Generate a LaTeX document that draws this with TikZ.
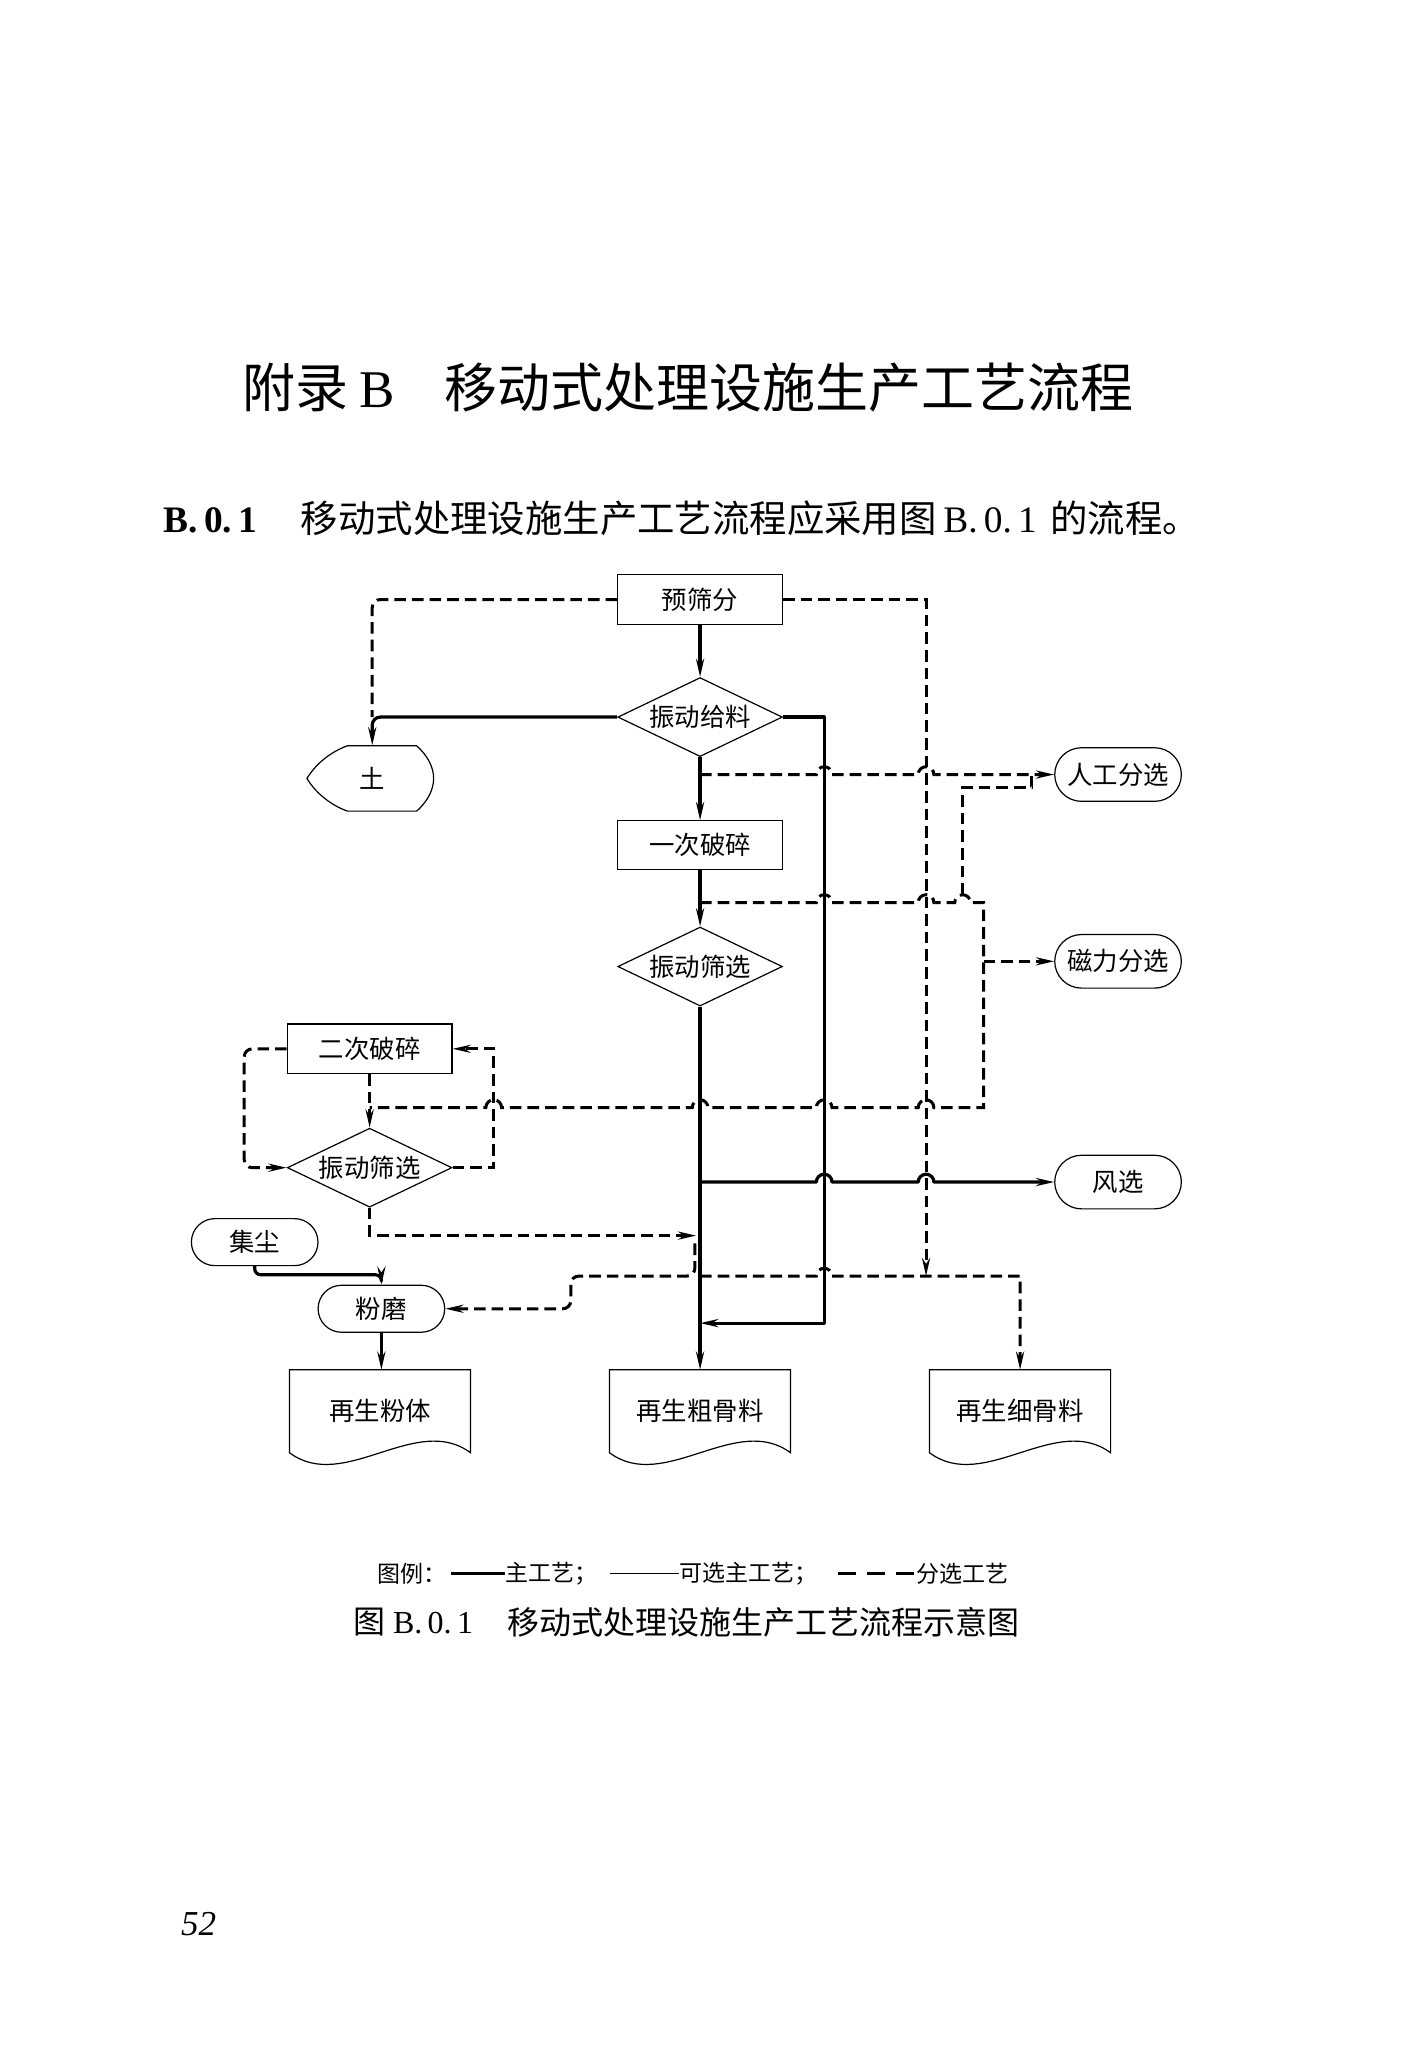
\documentclass[tikz,border=0pt]{standalone}
\usepackage{fontspec}
\setmainfont{Liberation Serif}
\newfontfamily\cjk{Noto Sans CJK SC}
\usetikzlibrary{arrows.meta,shapes.geometric,calc}
\newcommand\nodefont{\cjk\fontsize{12.7pt}{15pt}\selectfont}
\newcommand\legfont{\cjk\fontsize{11.5pt}{14pt}\selectfont}
\newcommand\docshape[1]{%
  \draw[nodeline] (#1.north west) -- (#1.south west)
    .. controls ($(#1.south west)!0.3!(#1.south east)+(0,31)$) and ($(#1.south west)!0.7!(#1.south east)+(0,-31)$) .. (#1.south east)
    -- (#1.north east) -- cycle;}
\begin{document}
\begin{tikzpicture}[x=0.653pt,y=-0.653pt,
  nodeline/.style={draw=black,line width=0.6pt},
  box/.style={nodeline,rectangle,minimum width=82.3pt,minimum height=24.8pt,inner sep=0pt,font=\nodefont},
  dia/.style={nodeline,diamond,aspect=2,minimum width=82.3pt,minimum height=39.5pt,inner sep=0pt,font=\nodefont},
  pill/.style={nodeline,rectangle,rounded corners=13.4pt,minimum width=63.3pt,minimum height=26.8pt,inner sep=0pt,font=\nodefont},
  spill/.style={pill,rounded corners=11.75pt,minimum height=23.5pt},
  doc/.style={rectangle,minimum width=90.1pt,minimum height=41.1pt,inner sep=0pt,font=\nodefont},
  plain/.style={inner sep=0pt,anchor=west},
  mainline/.style={line width=1.6pt,line join=round},
  sepline/.style={line width=1.5pt,dash pattern=on 5.8pt off 3pt},
  arr/.style={-{Stealth[length=9pt,width=4pt]}},
]
\fill[white] (0,0) rectangle (1088,1568);
\useasboundingbox (0,0) rectangle (1088,1568);

% ---------- title and text ----------
\node[plain,font=\cjk\fontsize{26.5pt}{30pt}\selectfont] (t1) at (185,297) {附录};
\node[plain,font=\fontsize{26.5pt}{30pt}\selectfont] (t2) at (275,299) {B};
\node[plain,font=\cjk\fontsize{26.5pt}{30pt}\selectfont] (t3) at (340,297) {移动式处理设施生产工艺流程};

\node[plain,font=\bfseries\fontsize{18.7pt}{22pt}\selectfont] (s1) at (125,398) {B.\,0.\,1};
\node[plain,font=\cjk\fontsize{18.7pt}{22pt}\selectfont] (s2) at (230,397) {移动式处理设施生产工艺流程应采用图};
\node[plain,font=\fontsize{18.7pt}{22pt}\selectfont] (s3) at (722,398) {B.\,0.\,1};
\node[plain,font=\cjk\fontsize{18.7pt}{22pt}\selectfont] (s4) at (804,397) {的流程。};

% ---------- nodes ----------
\node[box] (ysf) at (536,459) {预筛分};
\node[dia] (zdgl) at (536,549) {振动给料};
\node[rectangle,minimum width=63.3pt,minimum height=32.7pt,inner sep=0pt,font=\nodefont] (tu) at (285,596) {土};
\draw[nodeline] (266,571) -- (319,571) .. controls (328,579) and (332,588) .. (332,596)
  .. controls (332,604) and (328,613) .. (319,621) -- (266,621)
  .. controls (252,616) and (241,606) .. (235,596)
  .. controls (241,586) and (252,576) .. (266,571) -- cycle;
\node[pill] (rgfx) at (856,593) {人工分选};
\node[box,minimum height=24.2pt] (ycps) at (536,647) {一次破碎};
\node[dia] (zdsx1) at (536,740) {振动筛选};
\node[pill] (clfx) at (856,736) {磁力分选};
\node[box] (ecps) at (283,803) {二次破碎};
\node[dia] (zdsx2) at (283,894) {振动筛选};
\node[pill] (fx) at (856,905) {风选};
\node[spill] (jc) at (195,951) {集尘};
\node[spill] (fm) at (292,1002) {粉磨};
\node[doc] (zsft) at (291,1080.5) {再生粉体};
\node[doc] (zcgl) at (536,1080.5) {再生粗骨料};
\node[doc] (zxgl) at (781,1080.5) {再生细骨料};
\docshape{zsft}
\docshape{zcgl}
\docshape{zxgl}

% ---------- junction coordinates ----------
\coordinate (j593) at (536,593);
\coordinate (j691) at (536,691);
\coordinate (j905) at (536,905);
\coordinate (j946) at (533,946);
\coordinate (j977) at (536,977);
\coordinate (j1013) at (536,1013);
\coordinate (j848) at (283,848);
\coordinate (k977) at (709,977);
\coordinate (k737) at (737,685);
\coordinate (k790) at (790,593);
\coordinate (k736) at (753,736);
\coordinate (b952) at (532,952);

% ---------- main process ----------
\draw[mainline,arr] (ysf.south) -- (zdgl.north);
\draw[mainline,arr] (zdgl.south) -- (ycps.north);
\draw[mainline,arr] (ycps.south) -- (zdsx1.north);
\draw[mainline,arr] (zdsx1.south) -- (zcgl.north);
\draw[mainline,arr,rounded corners=4pt] (zdgl.west) -| (tu.north);
\draw[mainline,arr] (zdgl.east) -| (631,1013) -- (j1013);
\draw[mainline,arr] (j905) -- (625,905) arc[start angle=180,end angle=360,radius=6]
  -- (703,905) arc[start angle=180,end angle=360,radius=6] -- (fx.west);
\draw[mainline,arr,rounded corners=3pt] (jc.south) -- (195,976) -- (292,976) -- (fm.north);
\draw[mainline,arr] (fm.south) -- (fm.south |- zsft.north);

% ---------- sorting process (dashed) ----------
\draw[sepline,rounded corners=4pt] (ysf.west) -| (tu.north |- zdgl.west);
\draw[sepline,arr] (ysf.east) -| (k977);
\draw[sepline,arr] (j593) -- (625,593) arc[start angle=180,end angle=360,radius=6]
  -- (703,593) arc[start angle=180,end angle=360,radius=6] -- (rgfx.west);
\draw[sepline] (j691) -- (625,691) arc[start angle=180,end angle=360,radius=6]
  -- (703,691) arc[start angle=180,end angle=360,radius=6]
  -- (731,691) arc[start angle=180,end angle=360,radius=6]
  -- (753,691) -- (753,848)
  -- (715,848) arc[start angle=0,end angle=-180,radius=6]
  -- (637,848) arc[start angle=0,end angle=-180,radius=6]
  -- (542,848) arc[start angle=0,end angle=-180,radius=6]
  -- (384,848) arc[start angle=0,end angle=-180,radius=6]
  -- (j848);
\draw[sepline] (k737) -- (737,603) -- (790,603) -- (k790);
\draw[sepline,arr] (k736) -- (clfx.west);
\draw[sepline,arr,rounded corners=4pt] (ecps.west) -- (187,803) -- (187,894) -- (zdsx2.west);
\draw[sepline,arr] (zdsx2.east) -- (378,894) -- (378,803) -- (ecps.east);
\draw[sepline,arr] (ecps.south) -- (zdsx2.north);
\draw[sepline,arr] (zdsx2.south) |- (j946);
\draw[sepline,arr,rounded corners=4pt] (b952) -- (532,977) -- (437,977) -- (437,1002) -- (fm.east);
\draw[sepline,arr] (j977) -- (625,977) arc[start angle=180,end angle=360,radius=6]
  -- (781,977) -- (zxgl.north);

% ---------- legend and caption ----------
\node[plain,font=\legfont] (lg1) at (289,1205) {图例：};
\node[plain,font=\legfont] (lg2) at (387,1205) {主工艺；};
\node[plain,font=\legfont] (lg3) at (520,1205) {可选主工艺；};
\node[plain,font=\legfont] (lg4) at (701,1205) {分选工艺};
\draw[line width=1.6pt,shorten <=2pt] (lg1.east) -- (lg2.west);
\draw[line width=0.6pt,shorten <=6pt] (lg2.east) -- (lg3.west);
\draw[line width=1.4pt,dash pattern=on 9pt off 5.5pt,shorten <=10pt,shorten >=1pt] (lg3.east) -- (lg4.west);

\node[plain,font=\fontsize{16pt}{19pt}\selectfont] (cp1) at (270,1242) {{\cjk 图} B.\,0.\,1};
\node[plain,font=\cjk\fontsize{16pt}{19pt}\selectfont] (cp2) at (388,1242) {移动式处理设施生产工艺流程示意图};

\node[font=\itshape\fontsize{17.5pt}{20pt}\selectfont] (pg) at (152,1473) {52};
\end{tikzpicture}
\end{document}
